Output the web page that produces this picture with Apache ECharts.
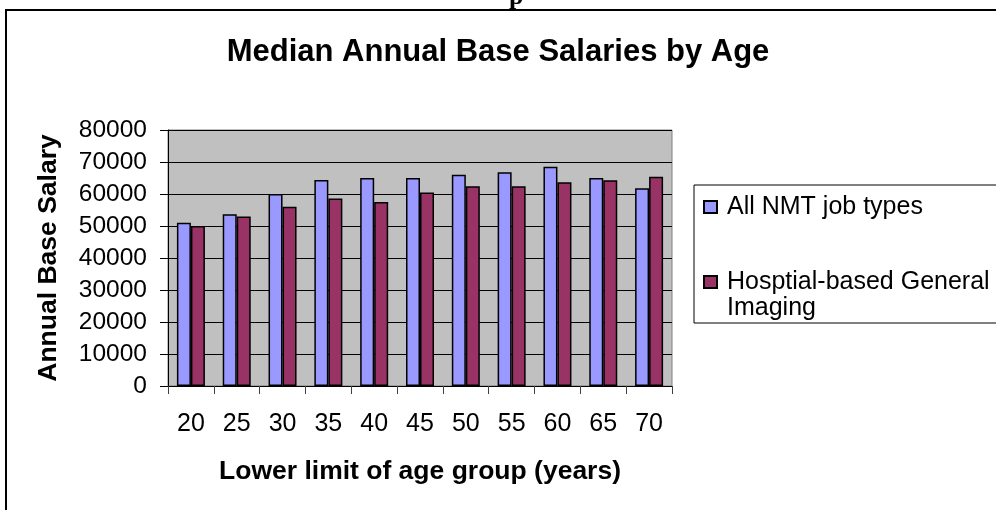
<!DOCTYPE html>
<html>
<head>
    <meta charset="utf-8">
    <title>Median Annual Base Salaries by Age</title>
    <script src="https://cdn.jsdelivr.net/npm/echarts/dist/echarts.min.js"></script>
    <style>
        html, body { margin: 0; padding: 0; background: #fff; }
        #chart1 { width: 996px; height: 510px; }
    </style>
</head>
<body>
    <div id="chart1"></div>
    <script type="text/javascript">
        // 数据
        var ages = ['20', '25', '30', '35', '40', '45', '50', '55', '60', '65', '70'];
        var allNmt = [51000, 53700, 60000, 64400, 65000, 65000, 66000, 66800, 68500, 65000, 61800];
        var hospitalGI = [50000, 53000, 56000, 58600, 57500, 60500, 62400, 62400, 63700, 64300, 65400];
        var seriesNames = ['All NMT job types', 'Hosptial-based General\nImaging'];
        var yMax = 80000;
        var yStep = 10000;

        var font = '"Liberation Sans", Arial, sans-serif';

        var myChart1 = echarts.init(document.getElementById('chart1'));
        var option = {
            animation: false,
            backgroundColor: '#fff',
            textStyle: { fontFamily: font, color: '#000' },
            title: {
                text: 'Median Annual Base Salaries by Age',
                left: 'center',
                top: 32,
                textStyle: { fontFamily: font, fontSize: 31, fontWeight: 'bold', color: '#000' }
            },
            // 外框 + 顶部被截断的文字
            graphic: [
                {
                    type: 'rect',
                    shape: { x: 6, y: 10, width: 1200, height: 800 },
                    style: { fill: 'none', stroke: '#000', lineWidth: 2 },
                    z: -10
                },
                {
                    type: 'text',
                    x: 509,
                    y: -16,
                    style: { text: 'p', font: 'bold 26px "Liberation Serif"', fill: '#000', verticalAlign: 'top' }
                }
            ],
            legend: {
                orient: 'vertical',
                left: 694,
                top: 185,
                padding: [9, 10, 2, 9],
                itemGap: 23,
                itemWidth: 13,
                itemHeight: 12,
                icon: 'rect',
                selectedMode: false,
                borderColor: '#000',
                borderWidth: 1,
                textStyle: { fontFamily: font, fontSize: 25, lineHeight: 26, color: '#000', padding: [0, 0, 0, 5] },
                // 第二项多一个空行，让图标对齐第一行文字
                formatter: function (name) {
                    return name === seriesNames[1] ? '\n' + name : name;
                },
                data: seriesNames
            },
            grid: {
                left: 168,
                top: 130,
                right: 324,
                bottom: 124,
                show: true,
                backgroundColor: '#C0C0C0',
                borderColor: '#808080',
                borderWidth: 1
            },
            xAxis: {
                type: 'category',
                data: ages,
                name: 'Lower limit of age group (years)',
                nameLocation: 'middle',
                nameGap: 72,
                nameTextStyle: { fontFamily: font, fontSize: 26.5, fontWeight: 'bold', color: '#000' },
                axisLine: { lineStyle: { color: '#000', width: 1 } },
                axisTick: { show: true, length: 8, lineStyle: { color: '#404040' } },
                axisLabel: { margin: 26, fontFamily: font, fontSize: 25, color: '#000' }
            },
            yAxis: {
                type: 'value',
                min: 0,
                max: yMax,
                interval: yStep,
                name: 'Annual Base Salary',
                nameLocation: 'middle',
                nameGap: 106,
                nameTextStyle: { fontFamily: font, fontSize: 26.5, fontWeight: 'bold', color: '#000' },
                axisLine: { show: true, lineStyle: { color: '#000', width: 1 } },
                axisTick: { show: true, length: 8, lineStyle: { color: '#000' } },
                axisLabel: {
                    margin: 21, fontFamily: font, fontSize: 24.5, color: '#000',
                    formatter: function (v) { return String(v); }
                },
                splitLine: { lineStyle: { color: '#000', width: 1 } }
            },
            series: [
                {
                    name: seriesNames[0],
                    type: 'bar',
                    data: allNmt,
                    barWidth: 14,
                    barGap: '0%',
                    itemStyle: { color: '#9999FF', borderColor: '#000', borderWidth: 1.5 }
                },
                {
                    name: seriesNames[1],
                    type: 'bar',
                    data: hospitalGI,
                    barWidth: 14,
                    itemStyle: { color: '#993366', borderColor: '#000', borderWidth: 1.5 }
                }
            ]
        };
        myChart1.setOption(option);
    </script>
</body>
</html>
